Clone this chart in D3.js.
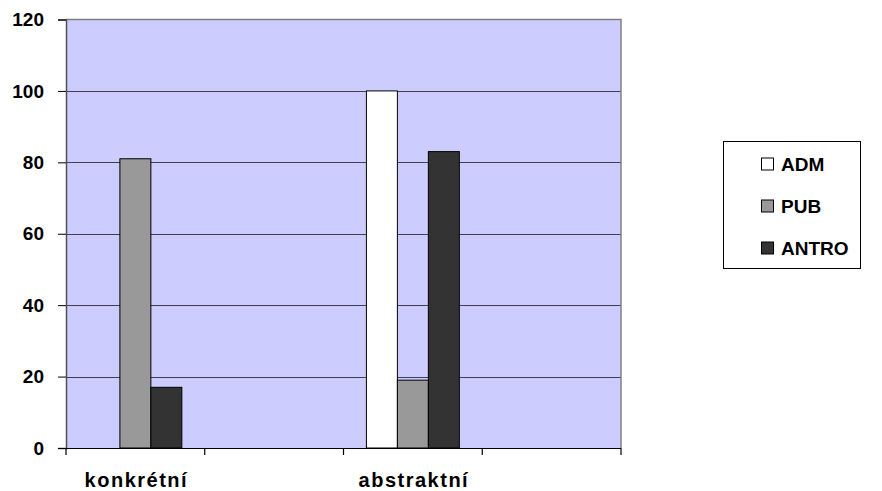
<!DOCTYPE html>
<html>
<head>
<meta charset="utf-8">
<script src="https://cdn.jsdelivr.net/npm/d3@7"></script>
<style>
  html, body { margin: 0; padding: 0; background: #ffffff; }
  svg { display: block; }
  text { font-family: "Liberation Sans", Arial, sans-serif; font-weight: bold; fill: #000; }
</style>
</head>
<body>
<svg id="chart" width="882" height="491"></svg>
<script>
// Category slots along the x axis (two slots carry no label and no data)
const categories = ["konkrétní", "", "abstraktní", ""];
const seriesNames = ["ADM", "PUB", "ANTRO"];
const seriesColors = ["#ffffff", "#999999", "#333333"];
const admValues = [0, null, 100, null];
const pubValues = [81, null, 19, null];
const antroValues = [17, null, 83, null];
const yTicks = [0, 20, 40, 60, 80, 100, 120];

const seriesValues = [admValues, pubValues, antroValues];

const svg = d3.select("#chart");
const plot = { left: 66, right: 621, top: 19.5, bottom: 448 };

const x0 = d3.scaleBand()
  .domain(d3.range(categories.length))
  .range([plot.left, plot.right])
  .paddingInner(0).paddingOuter(0);

const x1 = d3.scaleBand()
  .domain(seriesNames)
  .range([0, x0.bandwidth()])
  .paddingInner(0).paddingOuter(0.74);

const y = d3.scaleLinear().domain([0, 120]).range([plot.bottom, plot.top]);

// Plot background
svg.append("rect")
  .attr("x", plot.left).attr("y", plot.top)
  .attr("width", plot.right - plot.left).attr("height", plot.bottom - plot.top)
  .attr("fill", "#ccccff");

// Horizontal gridlines
svg.append("g")
  .selectAll("line")
  .data(yTicks.filter(t => t > 0 && t < 120))
  .join("line")
  .attr("x1", plot.left).attr("x2", plot.right)
  .attr("y1", d => Math.round(y(d)) + 0.5).attr("y2", d => Math.round(y(d)) + 0.5)
  .attr("stroke", "#404050").attr("stroke-width", 1.2);

// Plot border (top and right)
svg.append("path")
  .attr("d", `M${plot.left},${plot.top}H${plot.right}V${plot.bottom}`)
  .attr("fill", "none").attr("stroke", "#808080").attr("stroke-width", 1.5);

// Bars
const barData = [];
categories.forEach((c, i) => {
  seriesNames.forEach((s, j) => {
    const v = seriesValues[j][i];
    if (v != null && v > 0) barData.push({ i, s, v, color: seriesColors[j] });
  });
});

svg.append("g")
  .selectAll("rect")
  .data(barData)
  .join("rect")
  .attr("x", d => x0(d.i) + x1(d.s))
  .attr("y", d => y(d.v))
  .attr("width", x1.bandwidth())
  .attr("height", d => y(0) - y(d.v))
  .attr("fill", d => d.color)
  .attr("stroke", "#000").attr("stroke-width", 1);

// Y axis
const yAxis = svg.append("g")
  .attr("transform", `translate(${plot.left},0)`)
  .call(d3.axisLeft(y).tickValues(yTicks).tickSize(8).tickPadding(14));
yAxis.select(".domain").attr("stroke", "#505050").attr("stroke-width", 1.5);
yAxis.selectAll(".tick line").attr("stroke", "#000");
yAxis.selectAll(".tick text")
  .attr("font-size", 19).attr("font-family", "Liberation Sans, Arial, sans-serif")
  .attr("font-weight", "bold").attr("fill", "#000");

// X axis: ticks sit on category boundaries
const xAxis = svg.append("g")
  .attr("transform", `translate(0,${plot.bottom})`);
xAxis.append("line")
  .attr("x1", plot.left).attr("x2", plot.right)
  .attr("y1", 0.5).attr("y2", 0.5)
  .attr("stroke", "#000").attr("stroke-width", 1.2);
const boundaries = d3.range(categories.length + 1).map(i =>
  i < categories.length ? x0(i) : x0(categories.length - 1) + x0.bandwidth());
xAxis.selectAll("line.tick")
  .data(boundaries)
  .join("line").attr("class", "tick")
  .attr("x1", d => d).attr("x2", d => d)
  .attr("y1", 0).attr("y2", 7)
  .attr("stroke", "#000").attr("stroke-width", 1.2);
xAxis.selectAll("text")
  .data(categories.map((c, i) => ({ c, i })).filter(d => d.c))
  .join("text")
  .attr("x", d => x0(d.i) + x0.bandwidth() / 2 + 1)
  .attr("y", 39)
  .attr("text-anchor", "middle")
  .attr("font-size", 20)
  .attr("letter-spacing", 1.5)
  .text(d => d.c);

// Legend
const legend = svg.append("g");
legend.append("rect")
  .attr("x", 723.5).attr("y", 141.5).attr("width", 137).attr("height", 127)
  .attr("fill", "#ffffff").attr("stroke", "#000").attr("stroke-width", 1);
const rowY = [164, 206, 248];
seriesNames.forEach((s, j) => {
  legend.append("rect")
    .attr("x", 761.5).attr("y", rowY[j] - 6).attr("width", 12).attr("height", 12)
    .attr("fill", seriesColors[j]).attr("stroke", "#000").attr("stroke-width", 1);
  legend.append("text")
    .attr("x", 781).attr("y", rowY[j])
    .attr("dy", "0.36em")
    .attr("font-size", 19)
    .text(s);
});
</script>
</body>
</html>
